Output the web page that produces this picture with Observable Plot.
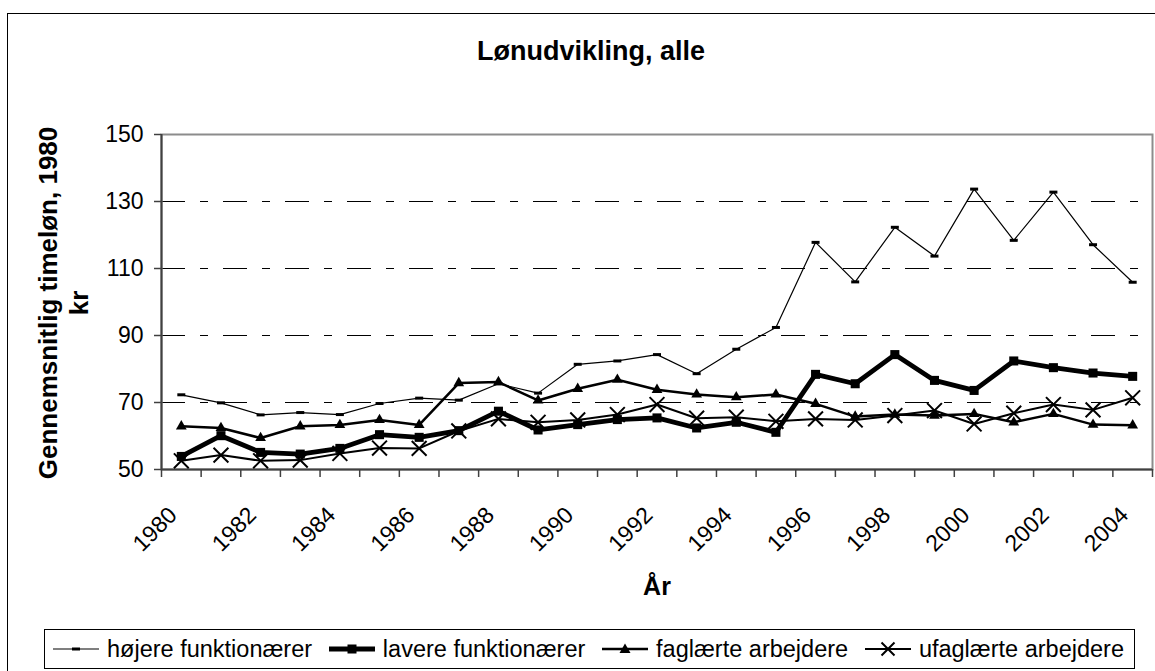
<!DOCTYPE html>
<html>
<head>
<meta charset="utf-8">
<script src="https://cdn.jsdelivr.net/npm/d3@7"></script>
<script src="https://cdn.jsdelivr.net/npm/@observablehq/plot@0.6"></script>
<style>
  html, body { margin: 0; padding: 0; background: #fff; }
  #wrap { position: relative; width: 1155px; height: 671px; overflow: hidden; background: #fff;
          font-family: "Liberation Sans", Arial, sans-serif; color: #000; }
  #border { position: absolute; left: 7px; top: 13px; width: 1400px; height: 900px;
            border-left: 1.5px solid #000; border-top: 1.5px solid #000; }
  #title { position: absolute; left: 0; width: 1182px; top: 36px; text-align: center;
           font-weight: bold; font-size: 27px; line-height: 31px; }
  #chart { position: absolute; left: 0; top: 100px; }
  #legend { position: absolute; left: 44px; top: 629px; width: 1071px; height: 38px;
            border: 1px solid #000; display: flex; align-items: center; justify-content: space-between;
            padding: 0 10px 0 8px; font-size: 23.5px; white-space: nowrap; }
  .item { display: flex; align-items: center; }
  .item svg { margin-right: 8px; }
</style>
</head>
<body>
<div id="wrap">
  <div id="border"></div>
  <div id="title">Lønudvikling, alle</div>
  <div id="chart"></div>
  <div id="legend"></div>
</div>
<script>
// ---- data ----
const years = [1980, 1981, 1982, 1983, 1984, 1985, 1986, 1987, 1988, 1989, 1990, 1991, 1992,
               1993, 1994, 1995, 1996, 1997, 1998, 1999, 2000, 2001, 2002, 2003, 2004];
const yearLabels = [1980, 1982, 1984, 1986, 1988, 1990, 1992, 1994, 1996, 1998, 2000, 2002, 2004];
const yTicks = [50, 70, 90, 110, 130, 150];
const gridTicks = [70, 90, 110, 130];
const seriesNames = ["højere funktionærer", "lavere funktionærer", "faglærte arbejdere", "ufaglærte arbejdere"];
const hojere     = [72.3, 69.9, 66.3, 67.0, 66.4, 69.7, 71.3, 70.7, 75.6, 72.8, 81.4, 82.4, 84.3,
                    78.6, 85.9, 92.4, 117.8, 106.0, 122.3, 113.7, 133.7, 118.4, 132.8, 117.1, 105.9];
const lavere     = [53.9, 60.1, 55.1, 54.6, 56.3, 60.4, 59.6, 61.6, 67.4, 61.8, 63.4, 64.9, 65.4,
                    62.4, 64.1, 61.1, 78.4, 75.6, 84.3, 76.6, 73.6, 82.4, 80.4, 78.8, 77.8];
const faglaerte  = [62.9, 62.4, 59.4, 62.9, 63.3, 64.8, 63.3, 75.8, 76.1, 70.6, 74.1, 76.8, 73.8,
                    72.4, 71.6, 72.4, 69.6, 65.8, 66.4, 66.1, 66.6, 64.1, 66.6, 63.4, 63.2];
const ufaglaerte = [52.6, 54.3, 52.6, 52.8, 54.8, 56.4, 56.3, 61.5, 65.1, 64.1, 64.8, 66.4, 69.4,
                    65.3, 65.6, 64.4, 65.1, 64.8, 66.1, 67.6, 63.6, 66.8, 69.4, 67.8, 71.4];
const yTitleLines = ["Gennemsnitlig timeløn, 1980", "kr"];
const xTitle = "År";

// ---- build ----
const dashSymbol = { draw(ctx) { ctx.rect(-4, -1.5, 8, 3); } };
const valuesList = [hojere, lavere, faglaerte, ufaglaerte];
const styles = [
  { lw: 1.2, symbol: dashSymbol, r: 3, fill: "#000", stroke: "none", sw: 0 },
  { lw: 4.8, symbol: "square", r: 5.1, fill: "#000", stroke: "none", sw: 0 },
  { lw: 2.5, symbol: "triangle", r: 4.0, fill: "#000", stroke: "none", sw: 0 },
  { lw: 2, symbol: "times", r: 6.8, fill: "none", stroke: "#000", sw: 2 }
];
const rowsBySeries = seriesNames.map((name, k) =>
  years.map((yr, i) => ({ year: yr, value: valuesList[k][i], name })));
const bounds = years.map(y => y - 0.5).concat([years[years.length - 1] + 0.5]);

const marks = [
  Plot.gridY(gridTicks, { stroke: "#000", strokeOpacity: 1, strokeWidth: 1, strokeDasharray: "24,15,8,15" }),
  Plot.frame({ stroke: "#8c8c8c", strokeWidth: 2 }),
  Plot.ruleX([bounds[0]], { stroke: "#404040", strokeWidth: 2 }),
  Plot.ruleY([yTicks[0]], { stroke: "#404040", strokeWidth: 2 }),
  Plot.axisY(yTicks, { tickSize: 7, tickPadding: 11, fontSize: 23, label: null, stroke: "#404040", strokeWidth: 1.5 }),
  Plot.axisX(bounds, { tickSize: 8, tickFormat: () => "", label: null, stroke: "#404040", strokeWidth: 1.5 }),
  Plot.text(yearLabels, { x: d => d, text: d => String(d), frameAnchor: "bottom", rotate: -45,
    textAnchor: "end", lineAnchor: "bottom", dx: -3, dy: 47, fontSize: 23, fill: "#000" }),
  Plot.text([xTitle], { text: d => d, frameAnchor: "bottom", lineAnchor: "bottom", dy: 125,
    fontSize: 25, fontWeight: "bold", fill: "#000" }),
  Plot.text([yTitleLines[0]], { text: d => d, frameAnchor: "left", rotate: -90, textAnchor: "middle",
    lineAnchor: "bottom", dx: -104.5, dy: 1, fontSize: 26, fontWeight: "bold", fill: "#000" }),
  Plot.text([yTitleLines[1]], { text: d => d, frameAnchor: "left", rotate: -90, textAnchor: "middle",
    lineAnchor: "bottom", dx: -74, dy: 1, fontSize: 26, fontWeight: "bold", fill: "#000" })
];
rowsBySeries.forEach((rows, k) => {
  const s = styles[k];
  marks.push(Plot.line(rows, { x: "year", y: "value", stroke: "#000", strokeWidth: s.lw,
    strokeLinejoin: "miter", strokeLinecap: "butt" }));
  marks.push(Plot.dot(rows, { x: "year", y: "value", symbol: () => s.symbol, r: s.r,
    fill: s.fill, stroke: s.stroke, strokeWidth: s.sw }));
});

const chart = Plot.plot({
  width: 1155, height: 520,
  marginLeft: 161, marginRight: 3, marginTop: 34, marginBottom: 151,
  x: { type: "linear", domain: [bounds[0], bounds[bounds.length - 1]] },
  y: { type: "linear", domain: [yTicks[0], yTicks[yTicks.length - 1]] },
  symbol: { type: "identity" },
  style: { fontFamily: "'Liberation Sans', Arial, sans-serif", color: "#000", background: "transparent", overflow: "visible" },
  marks
});
document.getElementById("chart").appendChild(chart);

// ---- legend ----
const legend = document.getElementById("legend");
const swatchSvgs = [
  '<line x1="0" y1="10" x2="46" y2="10" stroke="#000" stroke-width="1.2"/><rect x="19" y="8.5" width="8" height="3" fill="#000"/>',
  '<line x1="0" y1="10" x2="46" y2="10" stroke="#000" stroke-width="4.8"/><rect x="18.5" y="5.5" width="9" height="9" fill="#000"/>',
  '<line x1="0" y1="10" x2="46" y2="10" stroke="#000" stroke-width="2.5"/><path d="M23,4.5 L28.5,14 L17.5,14 Z" fill="#000"/>',
  '<line x1="0" y1="10" x2="46" y2="10" stroke="#000" stroke-width="2"/><path d="M16.5,3.5 L29.5,16.5 M29.5,3.5 L16.5,16.5" stroke="#000" stroke-width="2"/>'
];
seriesNames.forEach((name, k) => {
  const item = document.createElement("div");
  item.className = "item";
  item.innerHTML = `<svg width="46" height="20" viewBox="0 0 46 20">${swatchSvgs[k]}</svg><span>${name}</span>`;
  legend.appendChild(item);
});
</script>
</body>
</html>
